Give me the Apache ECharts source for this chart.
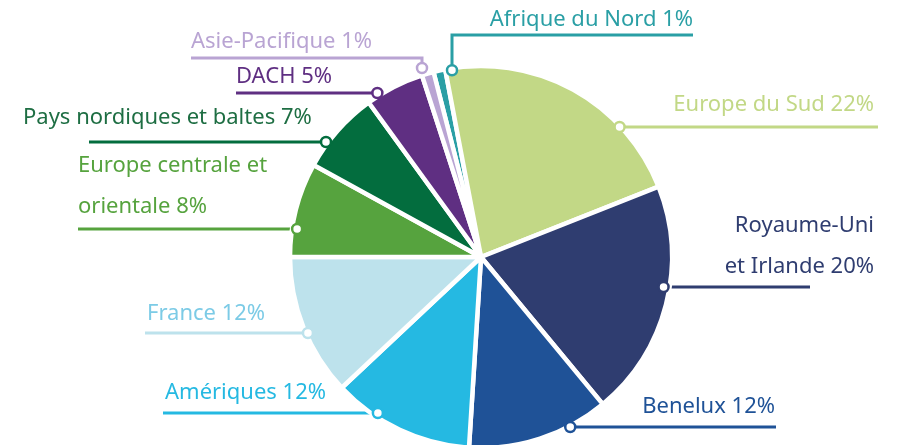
<!DOCTYPE html>
<html>
<head>
<meta charset="utf-8">
<title>Répartition par région</title>
<script src="https://cdn.jsdelivr.net/npm/echarts@6/dist/echarts.min.js"></script>
<style>
    html, body { margin: 0; padding: 0; background: #fff; }
    #main { width: 902px; height: 445px; }
</style>
</head>
<body>
<div id="main"></div>
<script>
// regions, clockwise from the top
var regions = ['Afrique du Nord', 'Europe du Sud', 'Royaume-Uni\net Irlande', 'Benelux', 'Amériques',
    'France', 'Europe centrale et\norientale', 'Pays nordiques et baltes', 'DACH', 'Asie-Pacifique'];
var shares = [1, 22, 20, 12, 12, 12, 8, 7, 5, 1];

var sliceColors = ['#2a9fa5', '#c2d886', '#2f3d70', '#1f5297', '#25b9e2',
    '#bde2ec', '#56a33e', '#036d3e', '#5f2f82', '#b9a4d3'];
var textColors = ['#2a9fa5', '#c2d886', '#2f3d70', '#1f5297', '#25b9e2',
    '#7ccbe6', '#56a33e', '#1e6e43', '#5f2f82', '#b9a4d3'];

var center = [481, 257];
var radius = 191;

/**
 * placement of each label
 * y: leader line height, end: outer end of the line, tx: text edge
 * raise: text (middle of caps) above the line, elbow: x of a vertical drop to the pie
 * ring: distance of the little marker from the centre
 */
var spots = [
    {y: 35, end: 693, tx: 693, align: 'right', raise: 15, elbow: 452, ring: 189},
    {y: 127, end: 878, tx: 874, align: 'right', raise: 22, ring: 190},
    {y: 287, end: 810, tx: 874, align: 'right', raise: 20, ring: 185},
    {y: 427, end: 776, tx: 775, align: 'right', raise: 20, ring: 192},
    {y: 413, end: 163, tx: 165, align: 'left', raise: 20, ring: 187},
    {y: 333, end: 145, tx: 147, align: 'left', raise: 19, ring: 189},
    {y: 229, end: 78, tx: 78, align: 'left', raise: 22, ring: 186},
    {y: 142, end: 89, tx: 23, align: 'left', raise: 24, ring: 193},
    {y: 93, end: 236, tx: 236, align: 'left', raise: 16, ring: 194},
    {y: 58, end: 191, tx: 191, align: 'left', raise: 16, elbow: 422, ring: 198}
];

// point where the leader line meets the pie
function markerPoint(s) {
    var r = s.ring;
    if (s.elbow != null) {
        var dx = s.elbow - center[0];
        return [s.elbow, center[1] - Math.sqrt(r * r - dx * dx)];
    }
    var dy = s.y - center[1];
    var half = Math.sqrt(r * r - dy * dy);
    return [s.end < center[0] ? center[0] - half : center[0] + half, s.y];
}

var pieData = [];
var markers = [];
for (var i = 0; i < regions.length; i++) {
    pieData.push({
        name: regions[i],
        value: shares[i],
        itemStyle: {color: sliceColors[i]},
        label: {color: textColors[i]}
    });
    var p = markerPoint(spots[i]);
    markers.push({
        type: 'circle',
        z: 100,
        shape: {cx: p[0], cy: p[1], r: 5},
        style: {fill: '#fff', stroke: sliceColors[i], lineWidth: 2.5}
    });
}

var chart = echarts.init(document.getElementById('main'));

chart.setOption({
    animation: false,
    graphic: markers,
    series: [
        {
            type: 'pie',
            center: center,
            radius: radius,
            startAngle: 104.4,
            clockwise: true,
            avoidLabelOverlap: false,
            itemStyle: {
                borderColor: '#fff',
                borderWidth: 4.5
            },
            label: {
                show: true,
                fontFamily: 'Noto Sans',
                fontSize: 22,
                lineHeight: 41,
                formatter: function (params) {
                    return params.name + ' ' + params.value + '%';
                }
            },
            labelLine: {
                show: true,
                lineStyle: {width: 3}
            },
            labelLayout: function (params) {
                var s = spots[params.dataIndex];
                var p = markerPoint(s);
                var pts = s.elbow != null
                    ? [p, [s.elbow, s.y], [s.end, s.y]]
                    : [p, p, [s.end, s.y]];
                return {
                    x: s.tx,
                    y: s.y - s.raise + 20.5,
                    align: s.align,
                    verticalAlign: 'bottom',
                    labelLinePoints: pts
                };
            },
            emphasis: {disabled: true},
            data: pieData
        }
    ]
});

window.onresize = function () {
    chart.resize();
};
</script>
</body>
</html>
